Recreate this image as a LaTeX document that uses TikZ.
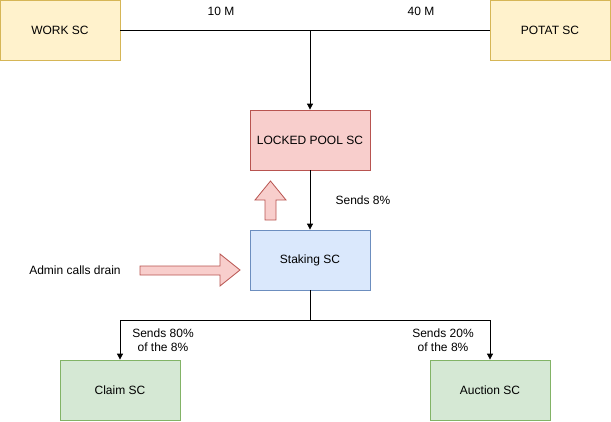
\documentclass[tikz,border=0pt]{standalone}
\usepackage{fontspec}
\setmainfont{Liberation Sans}
\usetikzlibrary{arrows.meta,shapes.arrows}
\definecolor{yfill}{HTML}{FFF2CC}\definecolor{ydraw}{HTML}{D6B656}
\definecolor{rfill}{HTML}{F8CECC}\definecolor{rdraw}{HTML}{B85450}
\definecolor{bfill}{HTML}{DAE8FC}\definecolor{bdraw}{HTML}{6C8EBF}
\definecolor{gfill}{HTML}{D5E8D4}\definecolor{gdraw}{HTML}{82B366}
\begin{document}
\begin{tikzpicture}[x=1pt,y=-1pt,
  every node/.style={font=\fontsize{12}{14}\selectfont},
  box/.style={draw, minimum width=120pt, minimum height=60pt, inner sep=0pt, line width=0.8pt},
  yellowbox/.style={box, fill=yfill, draw=ydraw},
  redbox/.style={box, fill=rfill, draw=rdraw},
  bluebox/.style={box, fill=bfill, draw=bdraw},
  greenbox/.style={box, fill=gfill, draw=gdraw},
  conn/.style={line width=0.8pt},
  arr/.style={conn, -{Triangle[width=6pt,length=6pt]}},
  lbl/.style={align=center, inner sep=0pt},
  blockarrow/.style={fill=rfill, draw=rdraw, line width=0.8pt, line join=miter}
]
\useasboundingbox (0,0) rectangle (611,421);
\node[yellowbox] (work) at (60,30) {WORK SC};
\node[yellowbox] (potat) at (550,30) {POTAT SC};
\node[redbox] (locked) at (310,140) {LOCKED POOL SC};
\node[bluebox] (staking) at (310,260) {Staking SC};
\node[greenbox] (claim) at (120,390) {Claim SC};
\node[greenbox] (auction) at (490,390) {Auction SC};

\coordinate (join) at (310,30);
\coordinate (split) at (310,320);
\draw[conn] (work.east) -- (potat.west);
\draw[arr] (join) -- (locked.north);
\draw[arr] (locked.south) -- (staking.north);
\draw[conn] (staking.south) -- (split);
\draw[arr] (split) -| (claim.north);
\draw[arr] (split) -| (auction.north);

\node[lbl] (l10) at (221,11) {10 M};
\node[lbl] (l40) at (421,11) {40 M};
\node[lbl] (l8) at (363,200) {Sends 8\%};
\node[lbl] (l80) at (163,340) {Sends 80\%\\of the 8\%};
\node[lbl] (l20) at (443,340) {Sends 20\%\\of the 8\%};
\node[lbl] (admin) at (75,270) {Admin calls drain};

% block arrow up
\draw[blockarrow] (265,220) -- (276,220) -- (276,200) -- (286,200) -- (270.5,181) -- (255,200) -- (265,200) -- cycle;
% block arrow right
\draw[blockarrow] (140,266) -- (220,266) -- (220,254) -- (240,270) -- (220,286) -- (220,275) -- (140,275) -- cycle;
\end{tikzpicture}
\end{document}
